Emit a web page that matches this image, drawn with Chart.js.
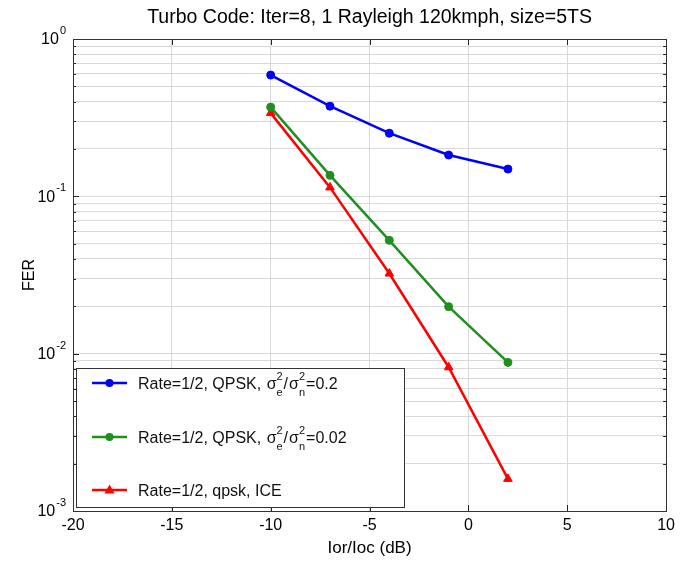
<!DOCTYPE html>
<html>
<head>
<meta charset="utf-8">
<script src="https://cdn.jsdelivr.net/npm/chart.js@4/dist/chart.umd.min.js"></script>
<style>
  html, body { margin: 0; padding: 0; background: #fff; }
</style>
</head>
<body>
<canvas id="fer" width="680" height="563"></canvas>
<script>
/* ── DATA ─────────────────────────────────────────────── */
const snrDb     = [-10, -7, -4, -1, 2];
const ferEst02  = [0.59, 0.374, 0.252, 0.183, 0.149];
const ferEst002 = [0.369, 0.136, 0.0525, 0.0199, 0.0088];
const ferIce    = [0.338, 0.114, 0.0323, 0.0082, 0.0016];

const xTicks     = [-20, -15, -10, -5, 0, 5, 10];
const yDecades   = [1e-3, 1e-2, 1e-1, 1];
const yExponents = ['-3', '-2', '-1', '0'];

const titleText  = 'Turbo Code: Iter=8, 1 Rayleigh 120kmph, size=5TS';
const xLabel     = 'Ior/Ioc (dB)';
const yLabel     = 'FER';

const legendText  = ['Rate=1/2, QPSK, ', 'Rate=1/2, QPSK, ', 'Rate=1/2, qpsk, ICE'];
const legendRatio = ['0.2', '0.02', null];
const colors      = ['#0000ff', '#1f8f1f', '#ff0000'];
const markers     = ['circle', 'circle', 'triangle'];

const FONT = '"Liberation Sans", Arial, sans-serif';

// minor grid values for the log axis: 1..9 x each decade
const yGrid = [];
yDecades.slice(0, -1).forEach(d => {
    for (let k = 1; k < 10; k++) yGrid.push(+(d * k).toPrecision(3));
});
yGrid.push(1);

const pts = ys => snrDb.map((x, i) => ({ x, y: ys[i] }));

/* ── MATLAB-style decorations: title, box, inward ticks, y labels, legend ── */
const decor = {
    id: 'decor',
    afterDraw(chart) {
        const { ctx, chartArea: a, scales: { x, y } } = chart;
        ctx.save();

        // title centred over the axes
        ctx.fillStyle = '#000';
        ctx.font = '19.5px ' + FONT;
        ctx.textAlign = 'center';
        ctx.textBaseline = 'middle';
        ctx.fillText(titleText, (a.left + a.right) / 2, 18);

        // inward tick marks
        ctx.strokeStyle = '#222';
        ctx.lineWidth = 1;
        ctx.beginPath();
        xTicks.forEach(v => {
            const px = Math.round(x.getPixelForValue(v)) + 0.5;
            ctx.moveTo(px, a.bottom); ctx.lineTo(px, a.bottom - 6);
            ctx.moveTo(px, a.top);    ctx.lineTo(px, a.top + 6);
        });
        yGrid.forEach(v => {
            const py = Math.round(y.getPixelForValue(v)) + 0.5;
            const len = yDecades.includes(v) ? 6 : 3;
            ctx.moveTo(a.left, py);  ctx.lineTo(a.left + len, py);
            ctx.moveTo(a.right, py); ctx.lineTo(a.right - len, py);
        });
        ctx.stroke();

        // plot box
        ctx.strokeStyle = '#333';
        ctx.strokeRect(Math.round(a.left) + 0.5, Math.round(a.top) + 0.5,
                       Math.round(a.right - a.left), Math.round(a.bottom - a.top));

        // y tick labels 10^n
        ctx.fillStyle = '#000';
        ctx.textBaseline = 'middle';
        yDecades.forEach((v, i) => {
            const py = y.getPixelForValue(v);
            ctx.font = '11px ' + FONT;
            const ew = ctx.measureText(yExponents[i]).width;
            ctx.textAlign = 'left';
            ctx.fillText(yExponents[i], a.left - 7 - ew, py - 8);
            ctx.font = '16px ' + FONT;
            ctx.textAlign = 'right';
            ctx.fillText('10', a.left - 8 - ew, py + 1);
        });

        // legend
        const lx = 76, ly = 368, lw = 328, lh = 139;
        ctx.fillStyle = '#fff';
        ctx.fillRect(lx, ly, lw, lh);
        ctx.strokeStyle = '#333';
        ctx.strokeRect(lx + 0.5, ly + 0.5, lw, lh);

        const rows = [383, 437, 490];
        rows.forEach((ry, i) => {
            ctx.strokeStyle = colors[i];
            ctx.fillStyle = colors[i];
            ctx.lineWidth = 2.5;
            ctx.beginPath();
            ctx.moveTo(92, ry); ctx.lineTo(127, ry);
            ctx.stroke();
            ctx.beginPath();
            if (markers[i] === 'circle') {
                ctx.arc(109.5, ry, 4, 0, Math.PI * 2);
            } else {
                ctx.moveTo(109.5, ry - 5.5); ctx.lineTo(114.5, ry + 3.5); ctx.lineTo(104.5, ry + 3.5);
                ctx.closePath();
            }
            ctx.fill();

            ctx.fillStyle = '#111';
            ctx.textAlign = 'left';
            ctx.textBaseline = 'alphabetic';
            const base = ry + 6;
            let tx = 138;
            ctx.font = '16px ' + FONT;
            ctx.fillText(legendText[i], tx, base);
            tx += ctx.measureText(legendText[i]).width;
            if (legendRatio[i]) {
                ['e', 'n'].forEach((sub, j) => {
                    ctx.font = '16px ' + FONT;
                    ctx.fillText('σ', tx + 1, base);
                    tx += ctx.measureText('σ').width + 1;
                    ctx.font = '11px ' + FONT;
                    ctx.fillText('2', tx, base - 9);
                    ctx.fillText(sub, tx, base + 7);
                    tx += Math.max(ctx.measureText('2').width, ctx.measureText(sub).width) + 1;
                    if (j === 0) {
                        ctx.font = '16px ' + FONT;
                        ctx.fillText('/', tx, base);
                        tx += ctx.measureText('/').width;
                    }
                });
                ctx.font = '16px ' + FONT;
                ctx.fillText('=' + legendRatio[i], tx, base);
            }
        });
        ctx.restore();
    }
};

const mkSet = (label, ys, i) => ({
    label,
    data: pts(ys),
    borderColor: colors[i],
    backgroundColor: colors[i],
    borderWidth: 2.5,
    pointStyle: markers[i],
    pointRadius: markers[i] === 'triangle' ? 5 : 4,
    pointBorderWidth: 1,
    tension: 0,
});

new Chart(document.getElementById('fer'), {
    type: 'line',
    data: {
        datasets: [
            mkSet('Rate=1/2, QPSK, σe²/σn²=0.2', ferEst02, 0),
            mkSet('Rate=1/2, QPSK, σe²/σn²=0.02', ferEst002, 1),
            mkSet('Rate=1/2, qpsk, ICE', ferIce, 2),
        ]
    },
    options: {
        responsive: false,
        animation: false,
        layout: { padding: { left: 0, right: 9, top: 39, bottom: 0 } },
        plugins: {
            legend: { display: false },
            tooltip: { enabled: false },
            title: { display: false },
        },
        scales: {
            x: {
                type: 'linear',
                min: -20,
                max: 10,
                afterFit: s => { s.height = 52; },
                afterBuildTicks: s => { s.ticks = xTicks.map(v => ({ value: v })); },
                grid: { color: '#d9d9d9', drawTicks: false },
                border: { display: false },
                ticks: {
                    color: '#000',
                    padding: 5,
                    font: { family: FONT, size: 16 },
                    callback: v => String(v),
                },
                title: {
                    display: true,
                    text: xLabel,
                    color: '#000',
                    font: { family: FONT, size: 17 },
                    padding: { top: 0, bottom: 4 },
                },
            },
            y: {
                type: 'logarithmic',
                min: 1e-3,
                max: 1,
                afterFit: s => { s.width = 73; },
                afterBuildTicks: s => { s.ticks = yGrid.map(v => ({ value: v })); },
                grid: { color: '#d9d9d9', drawTicks: false },
                border: { display: false },
                ticks: { display: false },
                title: {
                    display: true,
                    text: yLabel,
                    color: '#000',
                    font: { family: FONT, size: 16 },
                    padding: { top: 20, bottom: 0 },
                },
            },
        },
    },
    plugins: [decor],
});
</script>
</body>
</html>
